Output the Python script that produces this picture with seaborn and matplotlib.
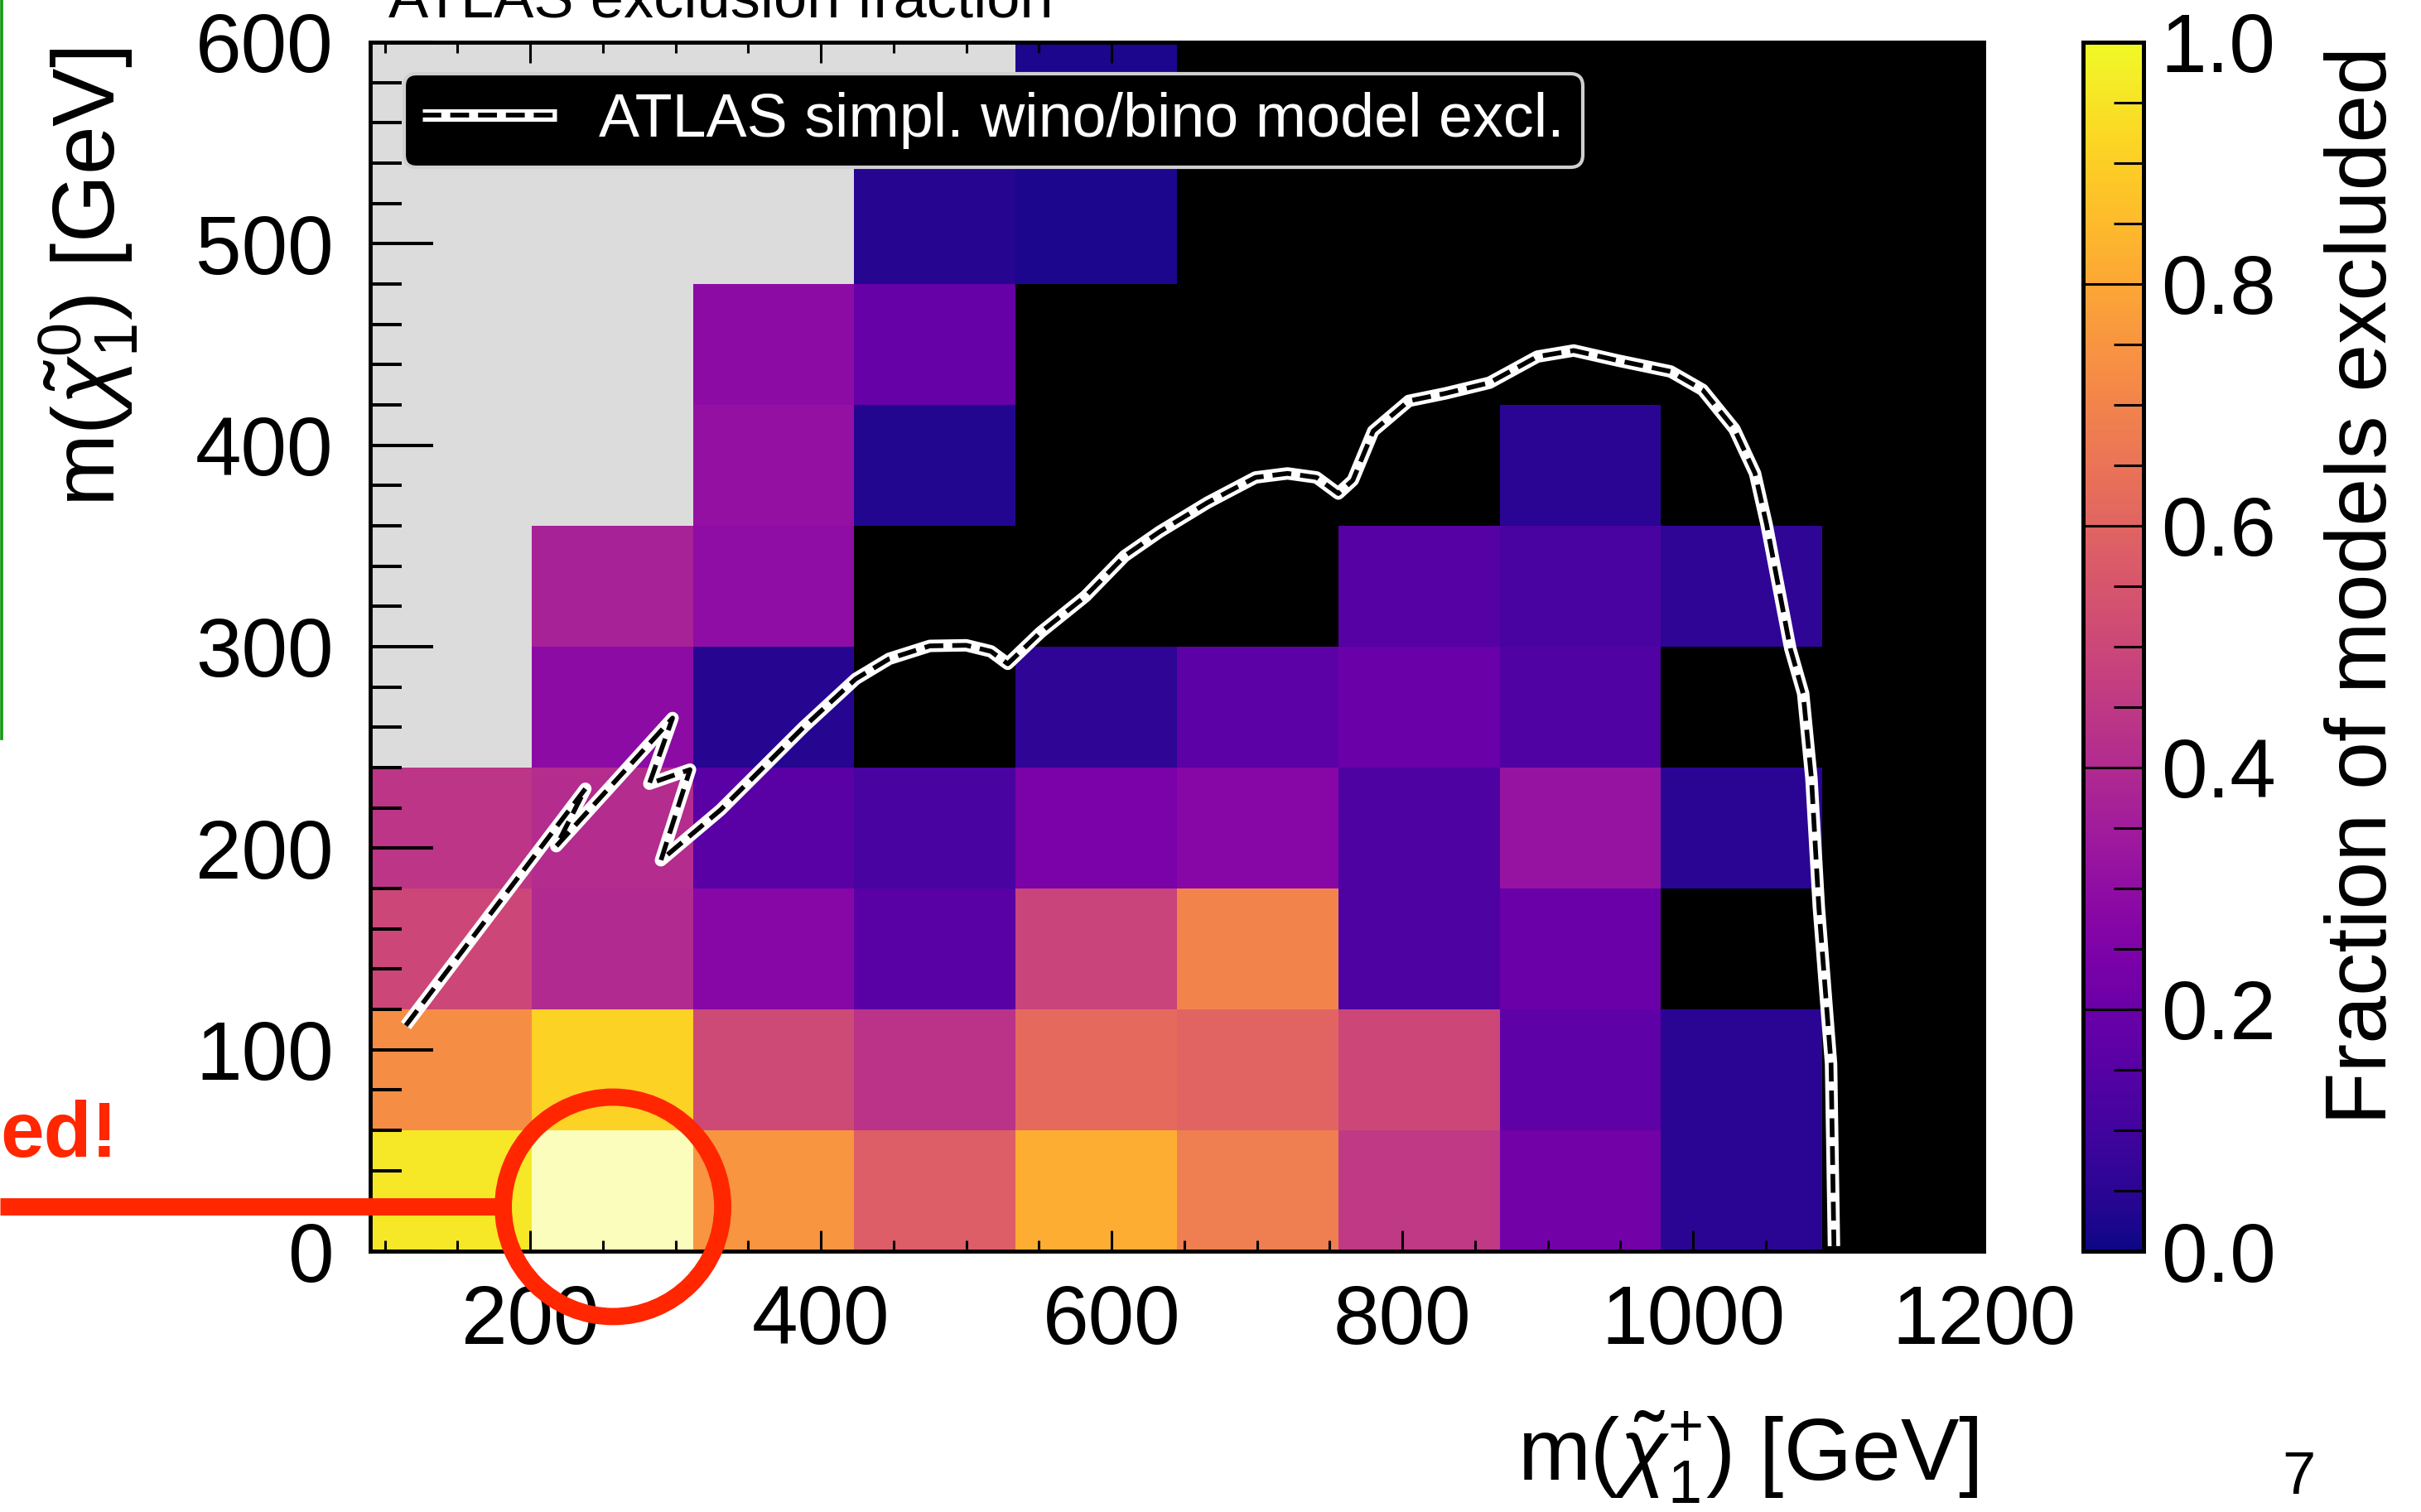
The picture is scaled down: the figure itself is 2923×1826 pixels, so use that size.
import numpy as np
import matplotlib
matplotlib.use("Agg")
import matplotlib.pyplot as plt
import seaborn as sns
from matplotlib.colors import ListedColormap
from matplotlib.ticker import MultipleLocator, FixedLocator, FormatStrFormatter
from matplotlib.lines import Line2D

# ---------------- data ----------------
# bin edges (GeV)
chargino_edges = [90, 201, 312, 423, 534, 645, 756, 867, 978, 1089, 1200]
neutralino_edges = [0, 60, 120, 180, 240, 300, 360, 420, 480, 540, 600]

N = None  # bins without models (black background)
# fraction of models excluded, one list per m(chi1^0) row, bottom -> top
frac_0_60    = [0.96, 1.00, 0.75, 0.58, 0.82, 0.68, 0.45, 0.22, 0.05, N]
frac_60_120  = [0.73, 0.91, 0.51, 0.43, 0.62, 0.60, 0.50, 0.17, 0.05, N]
frac_120_180 = [0.50, 0.40, 0.27, 0.16, 0.49, 0.70, 0.13, 0.20, N, N]
frac_180_240 = [0.44, 0.41, 0.16, 0.12, 0.24, 0.27, 0.13, 0.32, 0.05, N]
frac_240_300 = [N, 0.29, 0.04, N, 0.055, 0.165, 0.20, 0.14, N, N]
frac_300_360 = [N, 0.37, 0.30, N, N, N, 0.15, 0.12, 0.06, N]
frac_360_420 = [N, N, 0.31, 0.035, N, N, N, 0.05, N, N]
frac_420_480 = [N, N, 0.29, 0.19, N, N, N, N, N, N]
frac_480_540 = [N, N, N, 0.04, 0.02, N, N, N, N, N]
frac_540_600 = [N, N, N, N, 0.02, N, N, N, N, N]

# number of grey (kinematically forbidden) bins at the left of each row, bottom -> top
grey_leading = [0, 0, 0, 0, 1, 1, 2, 2, 3, 4]

# highlighted bin (row, column)
highlight_cell = (0, 1)

# ATLAS simplified wino/bino exclusion contour
excl_mchar = [114.5, 238, 218, 298, 282, 310, 290, 331, 388, 424, 447, 475, 500, 517,
              528.6, 551, 582, 609, 633, 666, 699, 721, 741, 756, 766, 780, 804.5,
              829.6, 860, 893, 918, 948.5, 984.6, 1006.6, 1028.5, 1042.7, 1050.7,
              1067, 1075.8, 1081.5, 1086.6, 1095, 1097]
excl_mneut = [112, 229.5, 201, 264.6, 232, 239, 194, 219, 260, 284, 294, 300.4, 300.7,
              297.7, 291.5, 307, 325, 345, 357, 371.5, 384, 386, 384, 376, 382.6, 407,
              422, 425.7, 431, 444, 447, 442, 436.6, 427.5, 408, 386, 360.5, 299, 276.8,
              234.7, 170.6, 93, 2.5]

x_ticks = [200, 400, 600, 800, 1000, 1200]
y_ticks = [0, 100, 200, 300, 400, 500, 600]
cbar_ticks = [0.0, 0.2, 0.4, 0.6, 0.8, 1.0]

# annotation (red circle) centre in data units
circle_center = (257, 22)

# ---------------- style ----------------
plt.rcParams['font.family'] = ['Liberation Sans', 'DejaVu Sans']
plt.rcParams['mathtext.fontset'] = 'custom'
plt.rcParams['mathtext.rm'] = 'Liberation Sans'
plt.rcParams['mathtext.it'] = 'Liberation Sans:italic'
plt.rcParams['mathtext.bf'] = 'Liberation Sans:bold'

W, H = 2923, 1826
fig = plt.figure(figsize=(W / 100, H / 100), dpi=100)
fig.patch.set_facecolor('white')

ax_pos = [447 / W, (H - 1511) / H, 1948 / W, 1460 / H]
cax_pos = [2515 / W, (H - 1511) / H, 73 / W, 1460 / H]

ax_heat = fig.add_axes(ax_pos)
cax = fig.add_axes(cax_pos)

# ---------------- heatmap ----------------
rows = [frac_0_60, frac_60_120, frac_120_180, frac_180_240, frac_240_300,
        frac_300_360, frac_360_420, frac_420_480, frac_480_540, frac_540_600]
frac = np.array([[np.nan if v is None else v for v in r] for r in rows], dtype=float)
grey = np.full_like(frac, np.nan)
for i, ng in enumerate(grey_leading):
    grey[i, :ng] = 1.0
hl = np.full_like(frac, np.nan)
hl[highlight_cell] = 1.0

ax_heat.set_facecolor('black')
sns.heatmap(frac[::-1], ax=ax_heat, cmap='plasma', vmin=0, vmax=1, cbar_ax=cax,
            xticklabels=False, yticklabels=False)
sns.heatmap(grey[::-1], ax=ax_heat, cmap=ListedColormap(['#dcdcdc']), vmin=0, vmax=1,
            cbar=False, xticklabels=False, yticklabels=False)
sns.heatmap(hl[::-1], ax=ax_heat, cmap=ListedColormap(['white']), vmin=0, vmax=1,
            alpha=0.7, cbar=False, xticklabels=False, yticklabels=False)
ax_heat.set_xlabel('')
ax_heat.set_ylabel('')
ax_heat.tick_params(left=False, bottom=False)

# ---------------- overlay axes with physical scales ----------------
ax = fig.add_axes(ax_pos)
ax.patch.set_alpha(0)
ax.set_xlim(chargino_edges[0], chargino_edges[-1])
ax.set_ylim(neutralino_edges[0], neutralino_edges[-1])

sns.lineplot(x=excl_mchar, y=excl_mneut, sort=False, estimator=None, ax=ax,
             color='white', lw=10.8, solid_joinstyle='round', solid_capstyle='butt')
white_line = ax.lines[-1]
sns.lineplot(x=excl_mchar, y=excl_mneut, sort=False, estimator=None, ax=ax,
             color='black', lw=4.1)
black_line = ax.lines[-1]
black_line.set_dashes((4.0, 1.9))

leg = ax.legend([(white_line, black_line)], ['ATLAS simpl. wino/bino model excl.'],
                loc='upper left', bbox_to_anchor=(0.021, 0.974), borderaxespad=0,
                fontsize=53, handlelength=2.2, handletextpad=0.7, borderpad=0.3,
                frameon=True, fancybox=True, framealpha=1, facecolor='black',
                edgecolor='#d0d0d0', labelcolor='white')
leg.get_frame().set_linewidth(3)

for s in ax.spines.values():
    s.set_linewidth(3.5)
    s.set_color('black')

ax.xaxis.set_major_locator(FixedLocator(x_ticks))
ax.xaxis.set_minor_locator(MultipleLocator(50))
ax.yaxis.set_major_locator(FixedLocator(y_ticks))
ax.yaxis.set_minor_locator(MultipleLocator(20))
ax.tick_params(axis='x', which='both', direction='in', top=True, bottom=True,
               labelsize=72, pad=28, width=2.2, color='black')
ax.tick_params(axis='x', which='major', length=18)
ax.tick_params(axis='x', which='minor', length=9.5)
ax.tick_params(axis='y', which='both', direction='in', left=True, right=True,
               labelsize=72, pad=32, width=2.9, color='black')
ax.tick_params(axis='y', which='major', length=55)
ax.tick_params(axis='y', which='minor', length=27)

ax.set_xlabel(r'm($\tilde{\chi}^{+}_{1}$) [GeV]', fontsize=76, loc='right')
ax.xaxis.set_label_coords(0.9964, -0.1897)
ax.xaxis.label.set_va('baseline')
ax.set_ylabel(r'm($\tilde{\chi}^{0}_{1}$) [GeV]', fontsize=76, loc='top')
ax.yaxis.set_label_coords(-0.1581, 0.9952)
ax.yaxis.label.set_va('baseline')

ax.text(0.0113, 1.0212, 'ATLAS exclusion fraction', transform=ax.transAxes,
        fontsize=52, ha='left', va='baseline')

# ---------------- colorbar ----------------
cbar = ax_heat.collections[0].colorbar
cbar.outline.set_linewidth(3.6)
cbar.outline.set_edgecolor('black')
cbar.set_ticks(cbar_ticks)
cax.yaxis.set_major_formatter(FormatStrFormatter('%.1f'))
cax.yaxis.set_minor_locator(MultipleLocator(0.05))
cax.tick_params(which='both', direction='in', right=True, left=False,
                labelsize=72, pad=15, width=2.2, color='black')
cax.tick_params(which='major', length=52)
cax.tick_params(which='minor', length=26)
cbar.set_label('Fraction of models excluded', fontsize=75, loc='top')
cax.yaxis.set_label_coords(5.014, 0.9966)
cax.yaxis.label.set_va('baseline')

# ---------------- slide annotations ----------------
red = '#ff2600'
ax.scatter([circle_center[0]], [circle_center[1]], s=190.8 ** 2, marker='o',
           facecolors='none', edgecolors=red, linewidths=15, zorder=20, clip_on=False)
fig.add_artist(Line2D([0, 598 / W], [1 - 1457 / H, 1 - 1457 / H],
                      transform=fig.transFigure, color=red, lw=15,
                      solid_capstyle='butt'))
fig.text(0.0, 1 - 1397 / H, 'ed!', color=red, fontsize=68, fontweight='bold',
         ha='left', va='baseline')
fig.add_artist(Line2D([1.7 / W, 1.7 / W], [1, 1 - 892 / H], transform=fig.transFigure,
                      color='#149a14', lw=2.6))
fig.text(2755 / W, 1 - 1804 / H, '7', fontsize=52, ha='left', va='baseline')

fig.savefig('out.png', dpi=100)
